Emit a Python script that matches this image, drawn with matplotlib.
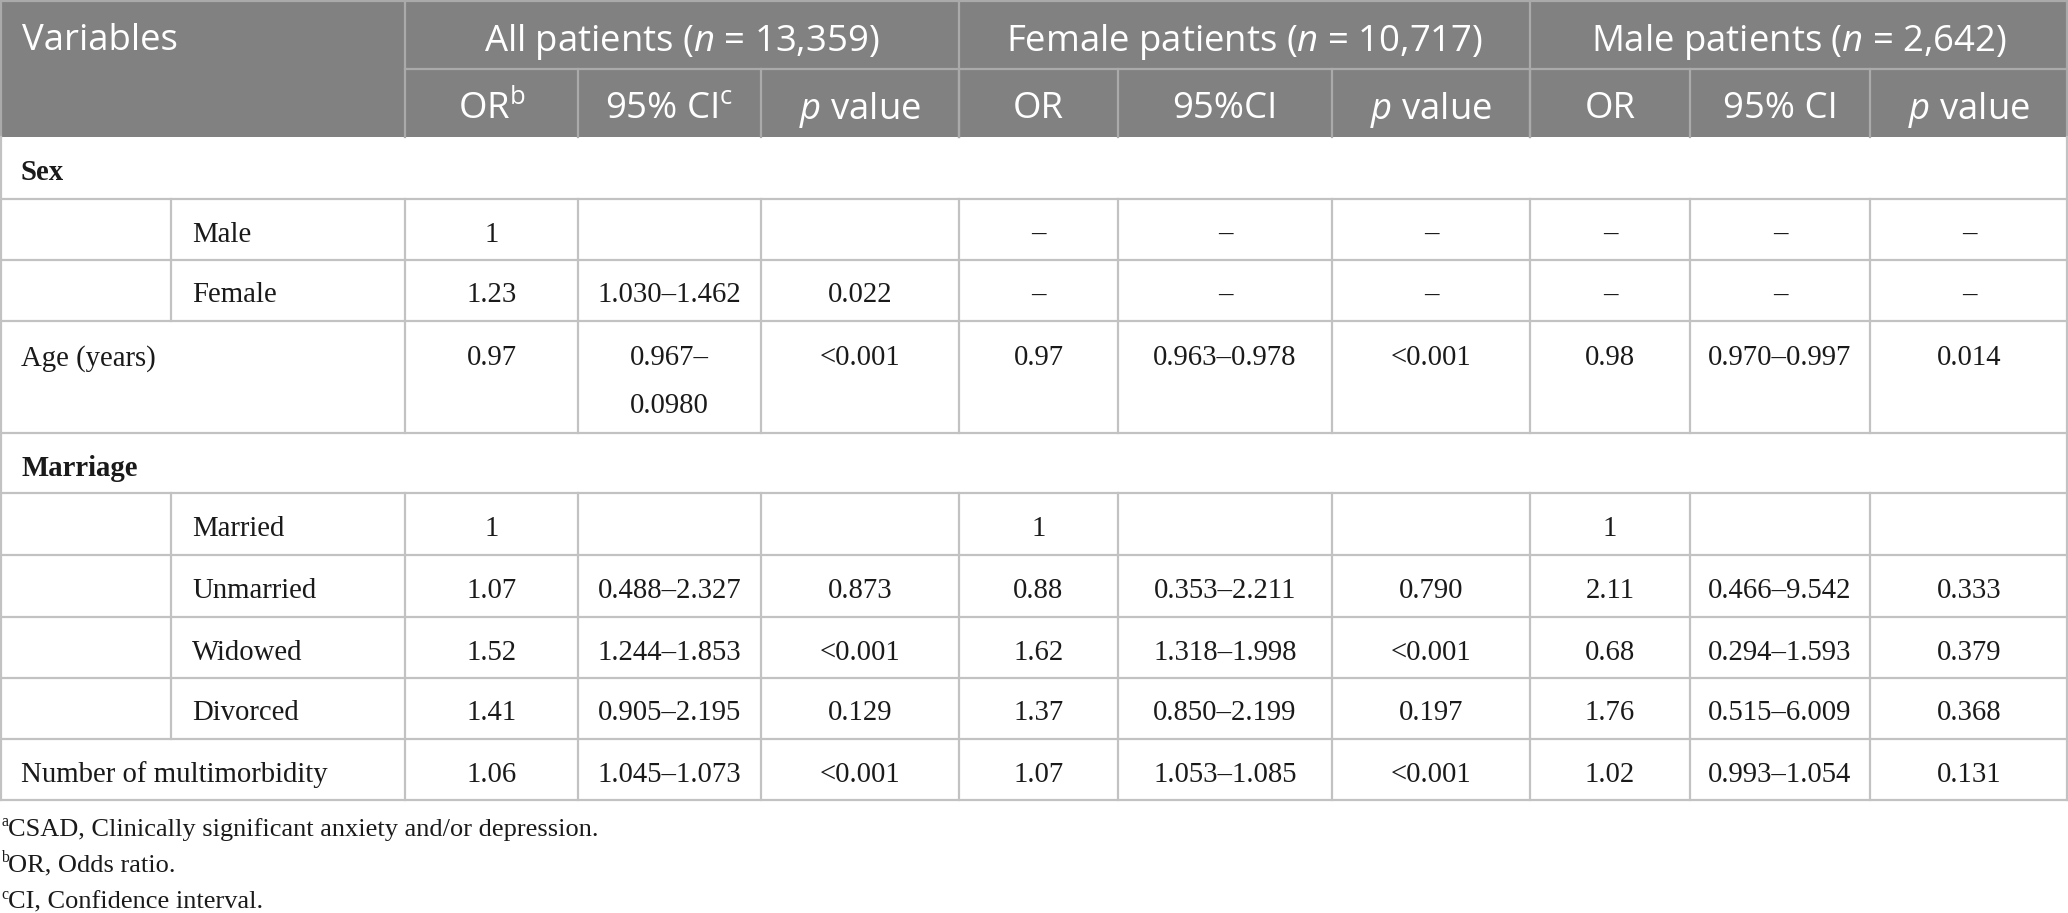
import matplotlib
matplotlib.use("Agg")
import matplotlib.pyplot as plt
from matplotlib.patches import Rectangle

# ---------------- data ----------------
groups = ["All patients ($\\mathit{n}$ = 13,359)",
          "Female patients ($\\mathit{n}$ = 10,717)",
          "Male patients ($\\mathit{n}$ = 2,642)"]
sub_headers = ["OR$^{\\mathrm{b}}$", "95% CI$^{\\mathrm{c}}$", "$\\mathit{p}$ value",
               "OR", "95%CI", "$\\mathit{p}$ value",
               "OR", "95% CI", "$\\mathit{p}$ value"]

row_labels = ["Sex", "Male", "Female", "Age (years)", "Marriage",
              "Married", "Unmarried", "Widowed", "Divorced",
              "Number of multimorbidity"]
row_kind = ["section", "sub", "sub", "main", "section",
            "sub", "sub", "sub", "sub", "main"]

all_or = ["", "1", "1.23", "0.97", "", "1", "1.07", "1.52", "1.41", "1.06"]
all_ci = ["", "", "1.030\u20131.462", "0.967\u2013\n0.0980", "", "",
          "0.488\u20132.327", "1.244\u20131.853", "0.905\u20132.195", "1.045\u20131.073"]
all_p = ["", "", "0.022", "<0.001", "", "", "0.873", "<0.001", "0.129", "<0.001"]

fem_or = ["", "\u2013", "\u2013", "0.97", "", "1", "0.88", "1.62", "1.37", "1.07"]
fem_ci = ["", "\u2013", "\u2013", "0.963\u20130.978", "", "",
          "0.353\u20132.211", "1.318\u20131.998", "0.850\u20132.199", "1.053\u20131.085"]
fem_p = ["", "\u2013", "\u2013", "<0.001", "", "", "0.790", "<0.001", "0.197", "<0.001"]

male_or = ["", "\u2013", "\u2013", "0.98", "", "1", "2.11", "0.68", "1.76", "1.02"]
male_ci = ["", "\u2013", "\u2013", "0.970\u20130.997", "", "",
           "0.466\u20139.542", "0.294\u20131.593", "0.515\u20136.009", "0.993\u20131.054"]
male_p = ["", "\u2013", "\u2013", "0.014", "", "", "0.333", "0.379", "0.368", "0.131"]

footnote_marks = ["a", "b", "c"]
footnotes = ["CSAD, Clinically significant anxiety and/or depression.",
             "OR, Odds ratio.",
             "CI, Confidence interval."]

# ---------------- layout / style ----------------
W, H = 2068, 913
col_x = [0, 405, 578, 761, 959, 1118, 1332, 1530, 1690, 1870, 2068]
sub_x = 171
hdr_y = [0, 69, 137]
hdr_text_y = [37, 104.5]
row_y = [137, 199, 260, 321, 433, 493, 555, 617, 678, 739, 800]
foot_y = [827, 863, 900]

HDR_BG = "#808180"
HDR_LINE = "#a9aaa9"
GRID = "#c2c2c2"
TXT = "#1a1a1a"
LW = 1.6

plt.rcParams["mathtext.fontset"] = "custom"
plt.rcParams["mathtext.rm"] = "Open Sans"
plt.rcParams["mathtext.it"] = "Open Sans:italic"
plt.rcParams["mathtext.bf"] = "Open Sans:bold"

SANS = "Open Sans"
SERIF = "Liberation Serif"
HFS = 26.3
BFS = 20.7
FFS = 19

fig = plt.figure(figsize=(W / 100, H / 100), dpi=100)
ax = fig.add_axes([0, 0, 1, 1])
ax.set_xlim(0, W)
ax.set_ylim(H, 0)
ax.axis("off")

# header background
ax.add_patch(Rectangle((0, hdr_y[0]), W, hdr_y[2] - hdr_y[0], facecolor=HDR_BG,
                       edgecolor="none", zorder=0))
# header lines
ax.plot([0, W], [1, 1], color=HDR_LINE, lw=LW)
ax.plot([col_x[1], W], [hdr_y[1], hdr_y[1]], color=HDR_LINE, lw=LW)
for x in [col_x[1], col_x[4], col_x[7]]:
    ax.plot([x, x], [hdr_y[0], hdr_y[2]], color=HDR_LINE, lw=LW)
for x in col_x[2:-1]:
    ax.plot([x, x], [hdr_y[1], hdr_y[2]], color=HDR_LINE, lw=LW)
ax.plot([0.5, 0.5], [hdr_y[0], hdr_y[2]], color=HDR_LINE, lw=LW)
ax.plot([W - 1, W - 1], [hdr_y[0], hdr_y[2]], color=HDR_LINE, lw=LW)

# header text
ax.text(22, hdr_text_y[0], "Variables", family=SANS, fontsize=HFS,
        color="white", ha="left", va="center_baseline")
for g, (a, b) in zip(groups, [(col_x[1], col_x[4]), (col_x[4], col_x[7]), (col_x[7], col_x[10])]):
    ax.text((a + b) / 2, hdr_text_y[0], g, family=SANS, fontsize=HFS,
            color="white", ha="center", va="center_baseline")
for i, s in enumerate(sub_headers):
    cx = (col_x[i + 1] + col_x[i + 2]) / 2
    ax.text(cx, hdr_text_y[1], s, family=SANS, fontsize=HFS,
            color="white", ha="center", va="center_baseline")

# body grid
for i in range(len(row_labels)):
    y0, y1 = row_y[i], row_y[i + 1]
    ax.plot([0, W], [y1, y1], color=GRID, lw=LW)
    ax.plot([0.5, 0.5], [y0, y1], color=GRID, lw=LW)
    ax.plot([W - 1, W - 1], [y0, y1], color=GRID, lw=LW)
    if row_kind[i] != "section":
        for x in col_x[1:-1]:
            ax.plot([x, x], [y0, y1], color=GRID, lw=LW)
    if row_kind[i] == "sub":
        ax.plot([sub_x, sub_x], [y0, y1], color=GRID, lw=LW)

# body text
cols = [all_or, all_ci, all_p, fem_or, fem_ci, fem_p, male_or, male_ci, male_p]
for i, lab in enumerate(row_labels):
    y0, y1 = row_y[i], row_y[i + 1]
    if row_kind[i] == "main" and (y1 - y0) > 80:
        yc = y0 + 34
    else:
        yc = (y0 + y1) / 2 + 2
    kind = row_kind[i]
    if kind == "section":
        ax.text(21, yc, lab, family=SERIF, fontsize=BFS, weight="bold", color=TXT,
                ha="left", va="center_baseline")
    elif kind == "sub":
        ax.text(sub_x + 21, yc, lab, family=SERIF, fontsize=BFS, color=TXT,
                ha="left", va="center_baseline")
    else:
        ax.text(21, yc, lab, family=SERIF, fontsize=BFS, color=TXT,
                ha="left", va="center_baseline")
    for j, col in enumerate(cols):
        s = col[i]
        if not s:
            continue
        cx = (col_x[j + 1] + col_x[j + 2]) / 2
        if "\n" in s:
            parts = s.split("\n")
            for k, p in enumerate(parts):
                ax.text(cx, yc + 48 * k, p, family=SERIF, fontsize=BFS, color=TXT,
                        ha="center", va="center_baseline")
        else:
            ax.text(cx, yc, s, family=SERIF, fontsize=BFS, color=TXT,
                    ha="center", va="center_baseline")

# footnotes
for m, t, y in zip(footnote_marks, footnotes, foot_y):
    ax.text(1, y - 7, m, family=SERIF, fontsize=FFS * 0.6, color=TXT,
            ha="left", va="center_baseline")
    ax.text(8, y, t, family=SERIF, fontsize=FFS, color=TXT,
            ha="left", va="center_baseline")

fig.savefig("out.png", dpi=100, facecolor="white")
